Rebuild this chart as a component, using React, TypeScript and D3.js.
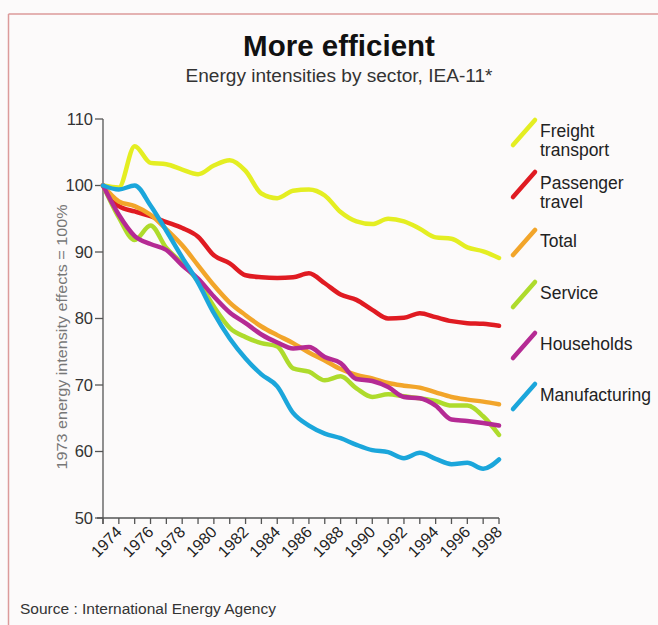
import React from "react";
import * as d3 from "d3";

const years = [1973,1974,1975,1976,1977,1978,1979,1980,1981,1982,1983,1984,1985,1986,1987,1988,1989,1990,1991,1992,1993,1994,1995,1996,1997,1998];
const freight = [100,99.7,105.9,103.4,103.2,102.4,101.7,103.0,103.8,102.2,98.8,98.1,99.2,99.4,98.5,96.0,94.6,94.2,95.0,94.6,93.5,92.2,92.0,90.7,90.1,89.1];
const passenger = [100,96.9,96.1,95.4,94.5,93.6,92.3,89.5,88.3,86.5,86.2,86.1,86.2,86.8,85.3,83.6,82.8,81.3,80.0,80.1,80.8,80.2,79.6,79.3,79.2,78.9];
const total = [100,97.6,96.9,95.6,93.4,91.0,88.0,85.0,82.4,80.5,78.8,77.5,76.3,74.9,73.7,72.4,71.5,71.0,70.3,69.9,69.6,68.9,68.2,67.8,67.5,67.1];
const service = [100,95.2,91.8,94.0,90.6,88.3,85.6,81.8,78.6,77.2,76.3,75.8,72.5,72.0,70.7,71.3,69.5,68.2,68.6,68.3,68.0,67.6,66.9,66.9,65.3,62.5];
const households = [100,95.6,92.4,91.2,90.3,88.0,86.0,83.3,80.9,79.3,77.6,76.4,75.5,75.7,74.2,73.3,70.9,70.6,69.7,68.2,68.0,66.9,64.8,64.6,64.3,63.9];
const manufacturing = [100,99.4,100.0,97.0,93.2,89.2,85.4,80.8,77.0,74.0,71.6,69.8,65.8,63.9,62.7,62.0,61.0,60.2,59.9,59.0,59.8,58.9,58.1,58.3,57.4,58.8];

const seriesNames = [["Freight", "transport"], ["Passenger", "travel"], ["Total"], ["Service"], ["Households"], ["Manufacturing"]];
const seriesValues = [freight, passenger, total, service, households, manufacturing];
const seriesColors = ["#e4ee22", "#e01b22", "#f2a52a", "#aedb2c", "#b52a94", "#1ba6db"];

const yTicks = [50, 60, 70, 80, 90, 100, 110];
const xLabelYears = [1974,1976,1978,1980,1982,1984,1986,1988,1990,1992,1994,1996,1998];

const title = "More efficient";
const subtitle = "Energy intensities by sector, IEA-11*";
const yAxisTitle = "1973 energy intensity effects = 100%";
const source = "Source : International Energy Agency";

export default function App() {
  const W = 658, H = 625;
  const x = d3.scaleLinear().domain([1973, 1998]).range([103, 499]);
  const y = d3.scaleLinear().domain([50, 110]).range([518, 119]);
  const line = d3.line<number>()
    .x((_, i) => x(years[i]))
    .y((d) => y(d))
    .curve(d3.curveMonotoneX);
  const font = "'Liberation Sans', Arial, Helvetica, sans-serif";
  const legendY = [137, 189, 247, 299, 350, 401];

  return (
    <svg width={W} height={H} style={{ position: "absolute", left: 0, top: 0 }} fontFamily={font}>
      <rect x={0} y={0} width={W} height={H} fill="#fcfafa" />
      <line x1={8.5} y1={14} x2={W} y2={14} stroke="#dc9a9a" strokeWidth={1.5} />
      <line x1={8.5} y1={14} x2={8.5} y2={H} stroke="#dc9a9a" strokeWidth={1.5} />

      <text x={339} y={56} textAnchor="middle" fontSize={29.5} fontWeight="bold" fill="#111">{title}</text>
      <text x={339} y={82} textAnchor="middle" fontSize={17.5} fill="#333" textLength={307} lengthAdjust="spacingAndGlyphs">{subtitle}</text>

      <text transform={`translate(67,337) rotate(-90)`} textAnchor="middle" fontSize={15.5} fill="#777" textLength={265} lengthAdjust="spacingAndGlyphs">{yAxisTitle}</text>

      {/* y axis */}
      <line x1={103} y1={y(110)} x2={103} y2={y(50) + 6} stroke="#555" strokeWidth={1.3} />
      {yTicks.map((t) => (
        <g key={t}>
          <line x1={95} x2={103} y1={y(t)} y2={y(t)} stroke="#555" strokeWidth={1.3} />
          <text x={93} y={y(t)} dy="0.35em" textAnchor="end" fontSize={16.5} fill="#333">{t}</text>
        </g>
      ))}

      {/* x axis */}
      <line x1={97} x2={x(1998)} y1={y(50)} y2={y(50)} stroke="#555" strokeWidth={1.3} />
      {years.map((yr) => (
        <line key={yr} x1={x(yr)} x2={x(yr)} y1={y(50)} y2={y(50) + 6} stroke="#555" strokeWidth={1.3} />
      ))}
      {xLabelYears.map((yr) => (
        <text key={yr} transform={`translate(${x(yr) + 4},${y(50) + 15}) rotate(-45)`} textAnchor="end" fontSize={16} fill="#222">{yr}</text>
      ))}

      {/* lines */}
      {seriesValues.map((vals, i) => (
        <path key={i} d={line(vals) || ""} fill="none" stroke={seriesColors[i]} strokeWidth={4.5} strokeLinecap="round" strokeLinejoin="round" />
      ))}

      {/* legend */}
      {seriesNames.map((names, i) => (
        <g key={i}>
          <line x1={513} y1={legendY[i] + 8} x2={535} y2={legendY[i] - 17} stroke={seriesColors[i]} strokeWidth={4.5} strokeLinecap="round" />
          {names.map((n, j) => (
            <text key={j} x={540} y={legendY[i] + j * 19} fontSize={17.5} fill="#222">{n}</text>
          ))}
        </g>
      ))}

      <text x={20} y={614} fontSize={15.5} fill="#333">{source}</text>
    </svg>
  );
}
